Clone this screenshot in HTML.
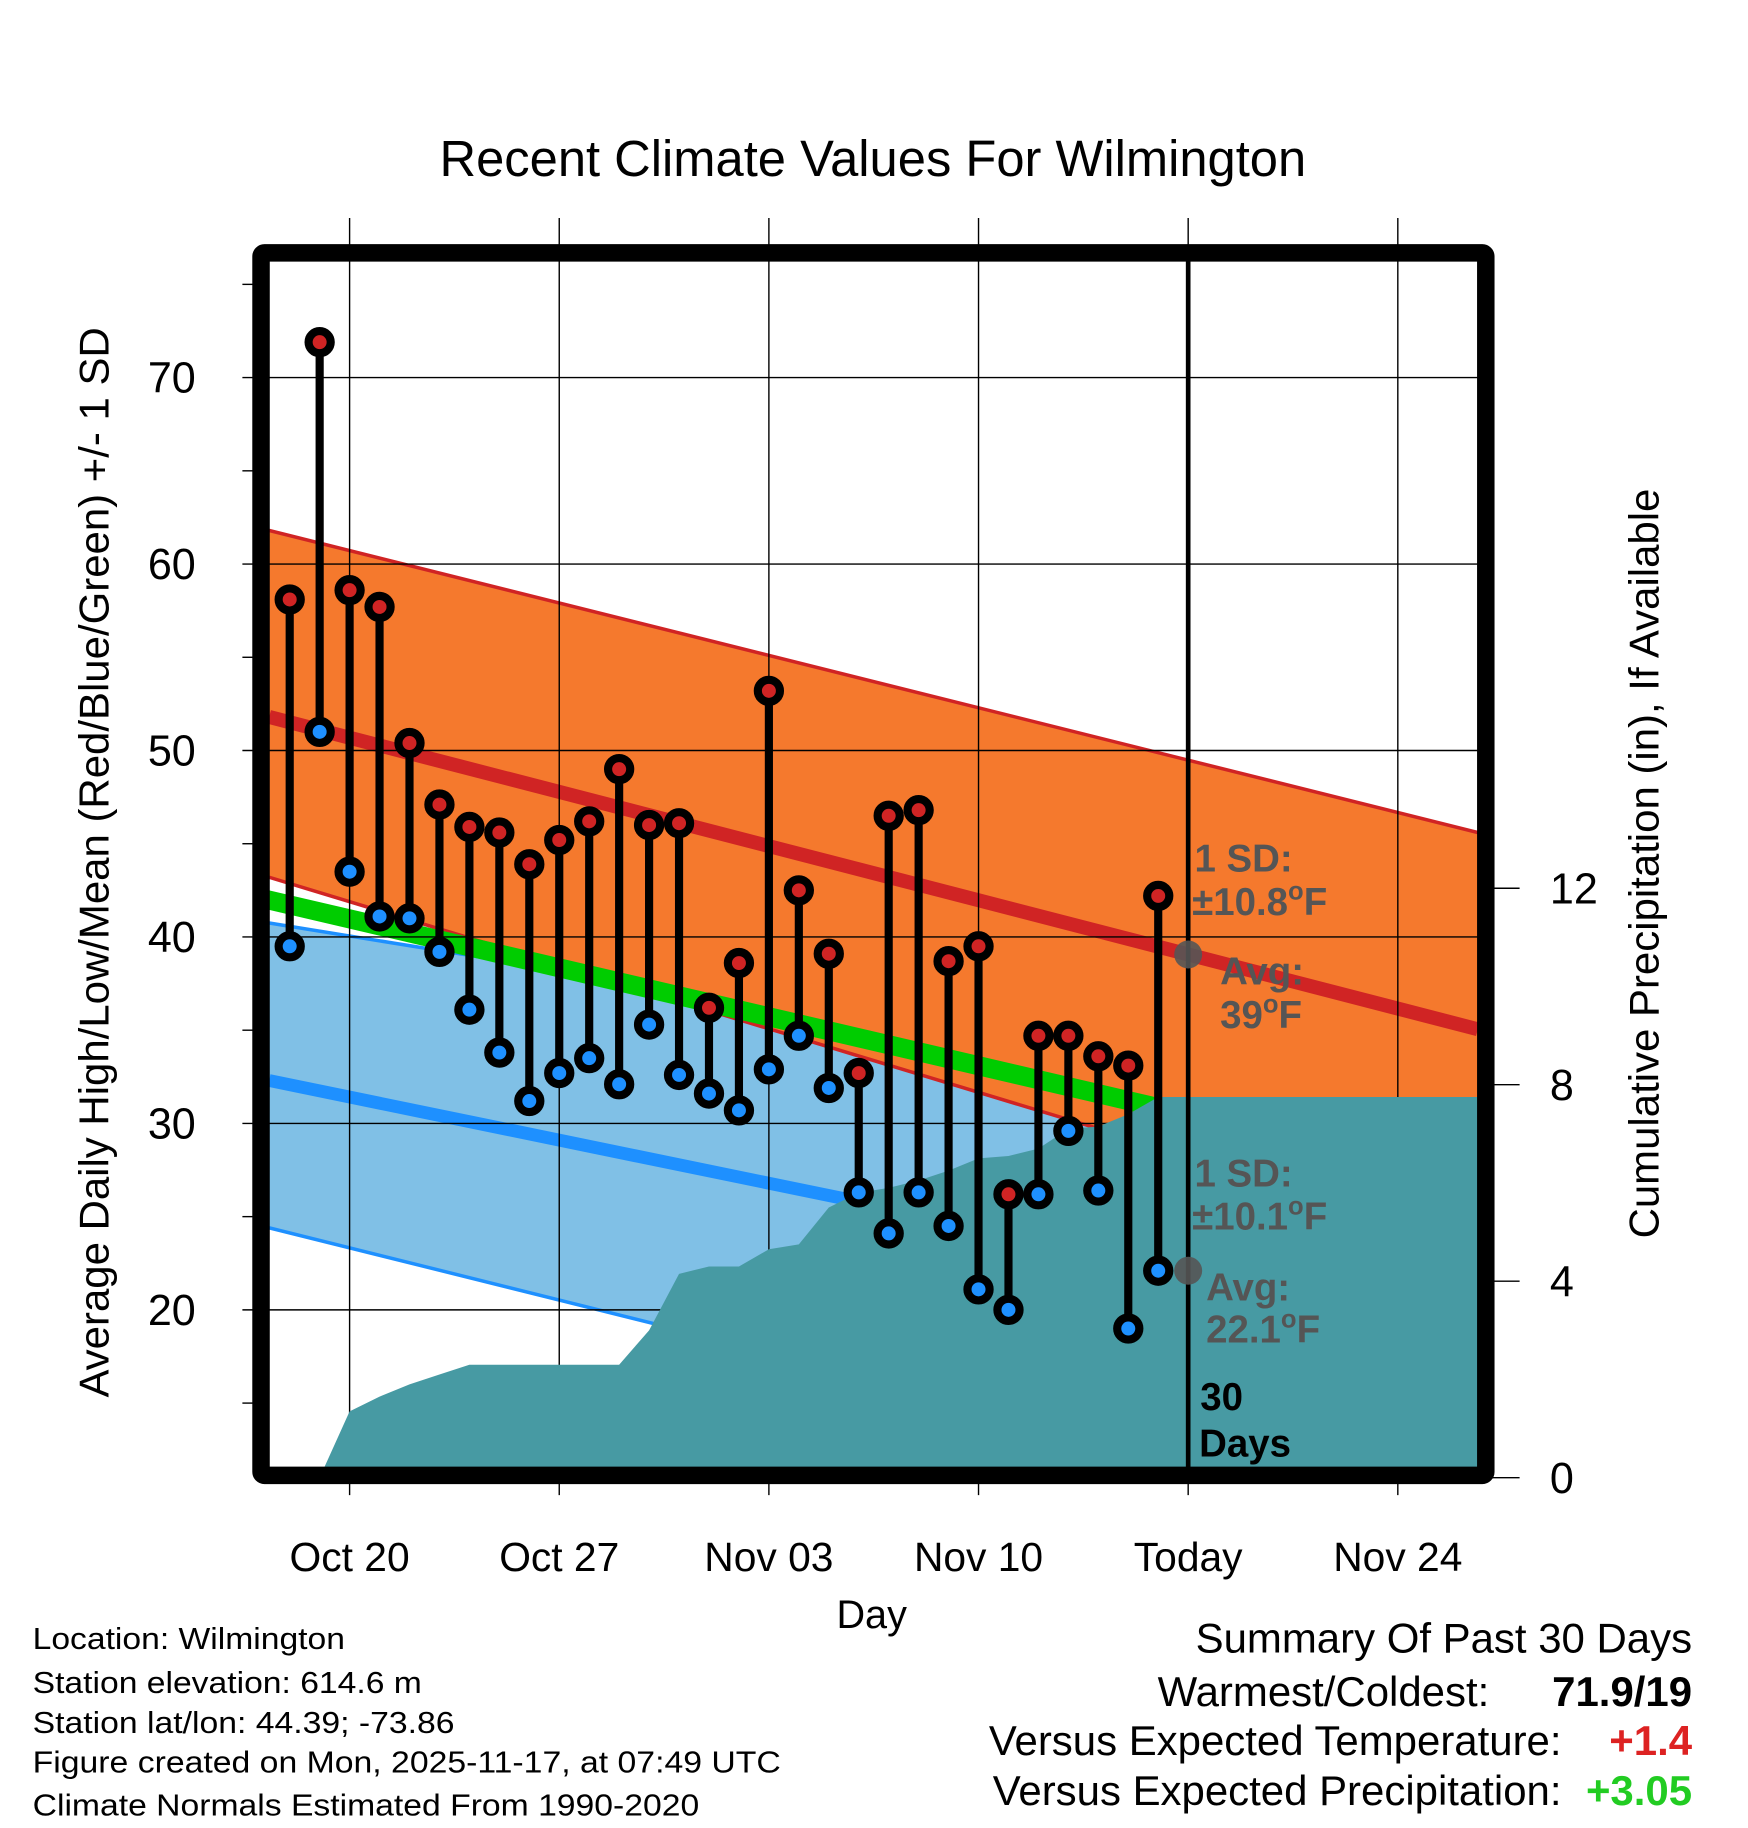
<!DOCTYPE html>
<html><head><meta charset="utf-8"><style>
html,body{margin:0;padding:0;background:#fff}
svg{display:block;font-family:"Liberation Sans",sans-serif}
</style></head><body>
<svg id="chart" width="1748" height="1828" viewBox="0 0 1500 1568.6" xmlns="http://www.w3.org/2000/svg">
<defs><clipPath id="plotclip"><rect x="231" y="224" width="1037" height="1035"/></clipPath></defs>
<rect x="0" y="0" width="1500" height="1568.6" fill="#fff"/>
<text x="749" y="151" font-size="43.5" text-anchor="middle">Recent Climate Values For Wilmington</text>
<g id="bands" clip-path="url(#plotclip)"></g>
<g id="grid"></g>
<g id="precip" clip-path="url(#plotclip)"></g>
<g id="marks" clip-path="url(#plotclip)"></g>
<g id="axes"></g>
<rect x="224" y="217" width="1051" height="1049" fill="none" stroke="#000" stroke-width="15" rx="3"/>
<g id="today"></g>
<g font-weight="bold" fill="#555" font-size="33">
<text x="1025" y="748">1 SD:</text>
<text x="1023" y="785">±10.8<tspan font-size="22" dy="-13">o</tspan><tspan dy="13">F</tspan></text>
<text x="1047" y="845">Avg:</text>
<text x="1047" y="882">39<tspan font-size="22" dy="-13">o</tspan><tspan dy="13">F</tspan></text>
</g>
<g font-weight="bold" fill="#555" font-size="33">
<text x="1025" y="1018">1 SD:</text>
<text x="1023" y="1055">±10.1<tspan font-size="22" dy="-13">o</tspan><tspan dy="13">F</tspan></text>
<text x="1035" y="1116">Avg:</text>
<text x="1035" y="1152">22.1<tspan font-size="22" dy="-13">o</tspan><tspan dy="13">F</tspan></text>
</g>
<g font-weight="bold" fill="#000" font-size="33">
<text x="1030" y="1210">30</text><text x="1029" y="1250">Days</text>
</g>
<text transform="translate(93,740) rotate(-90)" font-size="36" text-anchor="middle">Average Daily High/Low/Mean (Red/Blue/Green) +/- 1 SD</text>
<text transform="translate(1423,741) rotate(-90)" font-size="36" text-anchor="middle">Cumulative Precipitation (in), If Available</text>
<text x="748" y="1397" font-size="34" text-anchor="middle">Day</text>
<g font-size="26">
<text x="28" y="1415" textLength="268" lengthAdjust="spacingAndGlyphs">Location: Wilmington</text>
<text x="28" y="1453" textLength="334" lengthAdjust="spacingAndGlyphs">Station elevation: 614.6 m</text>
<text x="28" y="1487" textLength="362" lengthAdjust="spacingAndGlyphs">Station lat/lon: 44.39; -73.86</text>
<text x="28" y="1521" textLength="642" lengthAdjust="spacingAndGlyphs">Figure created on Mon, 2025-11-17, at 07:49 UTC</text>
<text x="28" y="1558" textLength="572" lengthAdjust="spacingAndGlyphs">Climate Normals Estimated From 1990-2020</text>
</g>
<g font-size="36" text-anchor="end">
<text x="1452" y="1418">Summary Of Past 30 Days</text>
<text x="1278" y="1464">Warmest/Coldest:</text>
<text x="1452" y="1464" font-weight="bold">71.9/19</text>
<text x="1340" y="1506">Versus Expected Temperature:</text>
<text x="1452" y="1506" font-weight="bold" fill="#d22">+1.4</text>
<text x="1340" y="1549">Versus Expected Precipitation:</text>
<text x="1452" y="1549" font-weight="bold" fill="#2c2">+3.05</text>
</g>
</svg>
<script>
// data: days Oct 18 .. Nov 16 (day offset from Oct 20)
const days = [-2,-1,0,1,2,3,4,5,6,7,8,9,10,11,12,13,14,15,16,17,18,19,20,21,22,23,24,25,26,27,28,29];
const highs = [58.1,71.9,58.6,57.7,50.4,47.1,45.9,45.6,43.9,45.2,46.2,49.0,46.0,46.1,36.2,38.6,53.2,42.5,39.1,32.7,46.5,46.8,38.7,39.5,26.2,34.7,34.7,33.6,33.1,42.2];
const lows = [39.5,51.0,43.5,41.1,41.0,39.2,36.1,33.8,31.2,32.7,33.5,32.1,35.3,32.6,31.6,30.7,32.9,34.7,31.9,26.3,24.1,26.3,24.5,21.1,20.0,26.2,29.6,26.4,19.0,22.1];
const precip = [0,0,1.35,1.65,1.9,2.1,2.3,2.3,2.3,2.3,2.3,2.3,3.0,4.15,4.3,4.3,4.65,4.75,5.5,5.8,5.9,6.05,6.25,6.5,6.55,6.7,7.1,7.15,7.4,7.75];
// normals: values at left edge and right edge of plot
const normalDays = [-2.685, 37.67];
const highUpper = [61.8, 45.6];
const highMean = [51.8, 35.05];
const highLower = [43.2, 23.55];
const meanTop = [42.5, 27.37];
const meanBottom = [41.45, 26.32];
const lowUpper = [40.75, 30.26];
const lowMean = [32.3, 18.98];
const lowLower = [24.4, 8.26];
const todayDay = 28;
const todayAvg = [39.06, 22.1];
const yTicks = [20,30,40,50,60,70];
const yMinor = [15,25,35,45,55,65,75];
const y2Ticks = [0,4,8,12];
const xTickDays = [0,7,14,21,28,35];
const xTickLabels = ["Oct 20","Oct 27","Nov 03","Nov 10","Today","Nov 24"];

const NS = "http://www.w3.org/2000/svg";
const X = d => 300 + d * 25.7;
const Y = v => 324 + (70 - v) * 16;
const Y2 = p => 1268 - p * 42.15;
function mk(tag, attrs, parent){ const e=document.createElementNS(NS,tag); for(const k in attrs) e.setAttribute(k,attrs[k]); parent.appendChild(e); return e; }
const bands=document.getElementById('bands'), grid=document.getElementById('grid'), pr=document.getElementById('precip'), marks=document.getElementById('marks'), axes=document.getElementById('axes'), today=document.getElementById('today');
function bandPts(a,b){ return `${X(normalDays[0])},${Y(a[0])} ${X(normalDays[1])},${Y(a[1])} ${X(normalDays[1])},${Y(b[1])} ${X(normalDays[0])},${Y(b[0])}`; }
function linePts(a){ return {x1:X(normalDays[0]),y1:Y(a[0]),x2:X(normalDays[1]),y2:Y(a[1])}; }

let e;
e=mk('polygon',{points:bandPts(lowUpper,lowLower),fill:'#80c0e6'},bands);
 
e=mk('line',Object.assign(linePts(lowUpper),{stroke:'#1e90ff','stroke-width':3}),bands);
 
e=mk('line',Object.assign(linePts(lowLower),{stroke:'#1e90ff','stroke-width':3}),bands);
 
e=mk('line',Object.assign(linePts(lowMean),{stroke:'#1e90ff','stroke-width':11}),bands);
 
e=mk('polygon',{points:bandPts(highUpper,highLower),fill:'#f5792d'},bands);
 
e=mk('line',Object.assign(linePts(highUpper),{stroke:'#d02424','stroke-width':3}),bands);
 
e=mk('line',Object.assign(linePts(highLower),{stroke:'#d02424','stroke-width':3}),bands);
 
e=mk('polygon',{points:bandPts(meanTop,meanBottom),fill:'#00cc00'},bands);
 
e=mk('line',Object.assign(linePts(highMean),{stroke:'#d02424','stroke-width':12}),bands);
 

// grid
xTickDays.forEach((d,i)=>{
  e=mk('line',{x1:X(d),y1:187,x2:X(d),y2:1283,stroke:'#000','stroke-width':1.2},grid);
   
  e=mk('text',{x:X(d),y:1348,'font-size':35,'text-anchor':'middle'},axes);
  e.textContent=xTickLabels[i];
   
});
yTicks.forEach(v=>{
  e=mk('line',{x1:208,y1:Y(v),x2:1268,y2:Y(v),stroke:'#000','stroke-width':1.2},grid);
   
  e=mk('text',{x:168,y:Y(v)+13,'font-size':37,'text-anchor':'end'},axes);
  e.textContent=v;
   
});
yMinor.forEach(v=>{
  e=mk('line',{x1:208,y1:Y(v),x2:220,y2:Y(v),stroke:'#000','stroke-width':1.2},axes);
   
});
y2Ticks.forEach(p=>{
  e=mk('line',{x1:1280,y1:Y2(p),x2:1304,y2:Y2(p),stroke:'#000','stroke-width':1.2},axes);
   
  e=mk('text',{x:1330,y:Y2(p)+13,'font-size':37},axes);
  e.textContent=p;
   
});

// precipitation area
let pts=[`${X(days[1])},${Y2(0)}`];
precip.forEach((p,i)=>{ if(i>=1) pts.push(`${X(days[i])},${Y2(p)}`); });
pts.push(`1268,${Y2(precip[precip.length-1])}`,`1268,1262`,`${X(days[1])},1262`);
e=mk('polygon',{points:pts.join(' '),fill:'#479aa3'},pr);
 

// stems & markers
highs.forEach((h,i)=>{
  const x=X(days[i]);
  e=mk('line',{x1:x,y1:Y(h),x2:x,y2:Y(lows[i]),stroke:'#000','stroke-width':7},marks);
   
});
highs.forEach((h,i)=>{
  const x=X(days[i]);
  e=mk('circle',{cx:x,cy:Y(h),r:9.5,fill:'#d02424',stroke:'#000','stroke-width':7},marks);
   
  e=mk('circle',{cx:x,cy:Y(lows[i]),r:9.5,fill:'#1e90ff',stroke:'#000','stroke-width':7},marks);
   
});

// today line & averages
e=mk('line',{x1:X(todayDay),y1:222,x2:X(todayDay),y2:1262,stroke:'#000','stroke-width':4},today);
 
todayAvg.forEach(v=>{
  e=mk('circle',{cx:X(todayDay),cy:Y(v),r:12,fill:'#555','fill-opacity':0.9},today);
   
});
</script>
</body></html>
